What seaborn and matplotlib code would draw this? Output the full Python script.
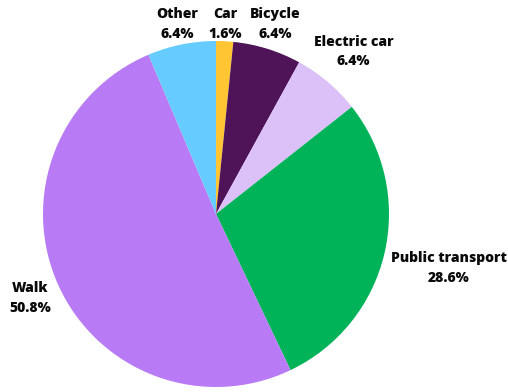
import numpy as np
import matplotlib
matplotlib.use("Agg")
import matplotlib.pyplot as plt
import seaborn as sns

# Share of trips by travel mode
modes = ["Car", "Bicycle", "Electric car", "Public transport", "Walk", "Other"]
shares = [1.6, 6.4, 6.4, 28.6, 50.8, 6.4]

colors = ["#FFC533", "#4F1458", "#DCC0F8", "#00B359", "#B87AF5", "#66CCFF"]
# radial distance of each label centre, as a multiple of the pie radius
label_dist = [1.10, 1.15, 1.23, 1.38, 1.18, 1.12]

sns.set_theme(style="white")
plt.rcParams["font.family"] = ["Open Sans", "DejaVu Sans"]

W, H = 508, 392
fig = plt.figure(figsize=(W / 100, H / 100), dpi=100)
ax = fig.add_axes([0, 0, 1, 1])
ax.set_xlim(0, W)
ax.set_ylim(0, H)
ax.set_aspect("equal")
ax.axis("off")

cx, cy, r = 216, 178, 173
wedges, _ = ax.pie(shares, colors=colors, startangle=90, counterclock=False,
                   center=(cx, cy), radius=r, frame=False,
                   wedgeprops=dict(linewidth=0))
ax.set_xlim(0, W)
ax.set_ylim(0, H)

for w, name, val, d in zip(wedges, modes, shares, label_dist):
    ang = np.deg2rad((w.theta1 + w.theta2) / 2)
    x = cx + d * r * np.cos(ang)
    y = cy + d * r * np.sin(ang)
    ax.text(x, y, f"{name}\n{val:.1f}%", ha="center", va="center",
            fontsize=10, fontweight=800, color="#0a0a0a", linespacing=1.5)

fig.savefig("out.png", dpi=100)
